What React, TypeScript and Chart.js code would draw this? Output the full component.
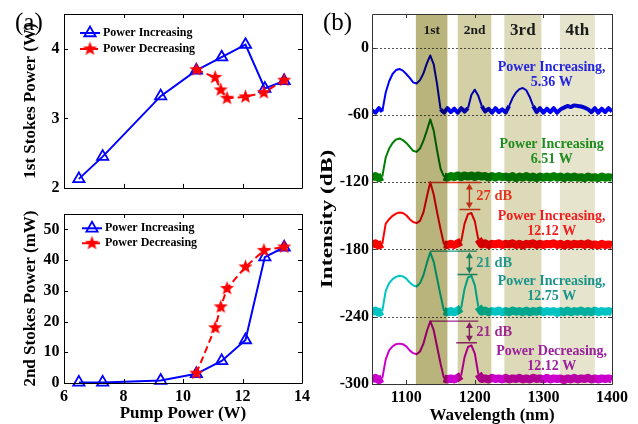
import React, { useEffect, useRef } from 'react';
import { Chart, registerables } from 'chart.js';

Chart.register(...registerables);

// ================= Panel (a) data =================
const pumpIncreasing = [6.5, 7.3, 9.25, 10.45, 11.3, 12.1, 12.75, 13.4];
const firstStokesIncreasing = [2.13, 2.45, 3.32, 3.69, 3.88, 4.06, 3.43, 3.54];
const pumpDecreasing = [10.45, 11.08, 11.27, 11.48, 12.1, 12.72, 13.4];
const firstStokesDecreasing = [3.7, 3.59, 3.41, 3.29, 3.31, 3.37, 3.55];
const secondStokesIncreasing = [0.2, 0.2, 0.8, 3.0, 7.2, 14.0, 41.0, 44.2];
const secondStokesDecreasing = [3.2, 18.0, 24.8, 30.8, 37.8, 43.2, 44.3];
const pumpTicks = [6, 8, 10, 12, 14];
const firstStokesTicks = [2, 3, 4];
const secondStokesTicks = [0, 10, 20, 30, 40, 50];
const seriesNames = ['Power Increasing', 'Power Decreasing'];

// ================= Panel (b) data =================
const wavelengths = [
  1050, 1055, 1060, 1065, 1070, 1075, 1080, 1085, 1090, 1095,
  1100, 1105, 1110, 1115, 1120, 1125, 1130, 1135, 1140, 1145,
  1150, 1155, 1160, 1165, 1170, 1175, 1180, 1185, 1190, 1195,
  1200, 1205, 1210, 1215, 1220, 1225, 1230, 1235, 1240, 1245,
  1250, 1255, 1260, 1265, 1270, 1275, 1280, 1285, 1290, 1295,
  1300, 1305, 1310, 1315, 1320, 1325, 1330, 1335, 1340, 1345,
  1350, 1355, 1360, 1365, 1370, 1375, 1380, 1385, 1390, 1395,
  1400,
];
// spectra in dB relative to each trace's own baseline (stack offset below)
const spectrum536 = [
  4, 2, 6, 3, 20, 30, 36.5, 40, 41, 39.5,
  36.5, 33, 29, 28, 31, 37, 46, 53, 45, 27,
  5, 2, 6, 2.5, 5.5, 2, 6, 3, 6, 18,
  22.5, 17, 8, 3, 5.5, 2, 6, 2.5, 5, 2,
  8, 15, 20, 23, 24, 22, 16, 8, 2.5, 6,
  2, 5.5, 2.5, 6, 2, 5, 6.5, 8, 7, 8.5,
  8, 7.5, 6.5, 5, 2.5, 6, 2, 5.5, 2.5, 6,
  3,
];
const spectrum651 = [
  4, 5.5, 3.5, 5, 22, 30, 35, 38, 39, 37.5,
  35, 31.5, 28, 27, 30, 37, 46, 56, 46, 28,
  12, 5, 4, 5.5, 4.5, 6, 4.5, 6, 5, 6,
  4.5, 6, 5, 5.5, 4, 5.5, 4, 5.5, 4.5, 5,
  4, 5.5, 3.5, 5, 4, 5.5, 4, 5, 3.5, 5,
  4, 5, 4, 5.5, 4, 5, 3.5, 5, 4, 5,
  4, 4.5, 3.5, 5, 4, 4.5, 3.5, 5, 4, 4.5,
  4,
];
const spectrum1212Inc = [
  4, 5.5, 3.5, 5, 23, 27, 30, 32, 33, 32.5,
  30.5, 27, 24.5, 23.5, 25.5, 33, 47, 60, 49, 33,
  18, 4.5, 4, 5, 4, 5.5, 7, 23, 31.5, 32.5,
  25, 9, 4.5, 5.5, 4, 5, 4.5, 5.5, 4, 5,
  4.5, 5.5, 4, 5, 3.5, 5, 4.5, 5.5, 4, 5,
  4, 5, 4.5, 5.5, 4, 5, 3.5, 5, 4, 5,
  4.5, 5, 4, 5.5, 4, 4.5, 3.5, 5, 4, 4.5,
  4,
];
const spectrum1275 = [
  4, 5.5, 3.5, 5, 23, 30, 33.5, 35.5, 36.5, 36,
  34, 30.5, 28, 27, 30, 37, 48, 57.5, 49, 34,
  19, 5, 4, 5, 4, 5.5, 7.5, 25, 35, 36.5,
  28, 9, 4.5, 5.5, 4, 5, 4.5, 5.5, 4, 5,
  4, 5.5, 4.5, 5, 4, 5.5, 4, 5, 4.5, 5.5,
  4, 5, 4.5, 5, 3.5, 5, 4, 5.5, 4, 5,
  4.5, 5.5, 4, 5, 4, 5.5, 4, 5, 4.5, 5,
  4,
];
const spectrum1212Dec = [
  4, 5.5, 3.5, 5, 22, 30, 33.5, 35.5, 36, 35.5,
  33.5, 30, 27.5, 26.5, 29, 36, 47, 56, 48, 33,
  18, 5, 4, 5, 4, 5.5, 7.5, 24, 33, 34.5,
  27, 9, 4.5, 5, 4, 5.5, 4.5, 5, 4, 5.5,
  4, 5, 4.5, 5.5, 4, 5, 4, 5.5, 4.5, 5,
  4, 5.5, 4, 5, 4.5, 5, 3.5, 5, 4, 5.5,
  4, 5, 4.5, 5.5, 4, 5, 4, 5, 4.5, 5,
  4,
];
const spectra = [spectrum536, spectrum651, spectrum1212Inc, spectrum1275, spectrum1212Dec];
const spectrumOffsets = [-60, -120, -180, -240, -300];
const spectrumNames = [
  ['Power Increasing,', '5.36 W'],
  ['Power Increasing', '6.51 W'],
  ['Power Increasing,', '12.12 W'],
  ['Power Increasing,', '12.75 W'],
  ['Power Decreasing,', '12.12 W'],
];
const intensityTicks = [-300, -240, -180, -120, -60, 0];
const wavelengthTicks = [1100, 1200, 1300, 1400];
const bandLabels = ['1st', '2nd', '3rd', '4th'];
const bandStart = [1114, 1175, 1243, 1324];
const bandEnd = [1160, 1224, 1297, 1375];
const gapLabels = ['27 dB', '21 dB', '21 dB'];
const gapTop = [-120.3, -181.5, -243.9];
const gapBottom = [-144.4, -202.3, -263.2];

// ================= Styles / layout =================
const SERIF = '"Liberation Serif", "Times New Roman", serif';
const tickFont = { family: SERIF, weight: 'bold', size: 16 };
const titleFont = { family: SERIF, weight: 'bold', size: 17, lineHeight: 1 };
const incColor = '#0000ff';
const decColor = '#ff0000';
const traceColors = ['#0000ff', '#008000', '#ff0000', '#00c4c4', '#cc00cc'];
const traceTextColors = ['#2424e0', '#1e8c1e', '#f01e1e', '#1a9488', '#9c1f9c'];
const traceFloorWidth = [4, 8, 8, 8, 8];
const bandColors = ['#b8b47c', '#d3d0a6', '#dddab9', '#e6e4cd'];
const bandFontSize = [13.5, 13.5, 17, 17];
const bandLabelDb = 15;
const nameCenterNm = 1312;
const nameFirstLineDb = [-18, -86.4, -150.4, -208.8, -271.2];
const gapColors = ['#e2381e', '#22998a', '#a0288f'];
const gapLongNm = [[1132, 1208], [1135, 1203], [1135, 1205]];
const gapShortNm = [[1177.6, 1208], [1174.7, 1203.8], [1172.8, 1203]];
const gapArrowNm = 1192;

function makeStar(r: number, color: string) {
  const c = document.createElement('canvas');
  const s = Math.ceil(r * 2 + 2);
  c.width = s;
  c.height = s;
  const g = c.getContext('2d')!;
  g.fillStyle = color;
  g.beginPath();
  for (let i = 0; i < 10; i++) {
    const ang = -Math.PI / 2 + (i * Math.PI) / 5;
    const rr = i % 2 === 0 ? r : r * 0.42;
    g.lineTo(s / 2 + rr * Math.cos(ang), s / 2 + rr * Math.sin(ang));
  }
  g.closePath();
  g.fill();
  return c;
}

function axis(min: number, max: number, values: number[], showLabels: boolean, fitKey: string, fitSize: number, title?: any, pad = 4) {
  return {
    type: 'linear',
    min,
    max,
    afterBuildTicks: (s: any) => {
      s.ticks = values.map((v) => ({ value: v }));
    },
    afterFit: (s: any) => {
      s[fitKey] = fitSize;
    },
    grid: { display: false, drawTicks: false },
    border: { display: false },
    ticks: {
      display: showLabels,
      font: tickFont,
      color: '#000',
      padding: pad,
      autoSkip: false,
      maxRotation: 0,
      callback: (v: any) => String(v),
    },
    title: title || { display: false },
  };
}

function framePlugin(color: string, tickLen: number) {
  return {
    id: 'frame',
    afterDraw(chart: any) {
      const { ctx, chartArea: a, scales } = chart;
      ctx.save();
      ctx.strokeStyle = color;
      ctx.lineWidth = 1;
      ctx.setLineDash([]);
      ctx.beginPath();
      ctx.rect(Math.round(a.left) + 0.5, Math.round(a.top) + 0.5, Math.round(a.right - a.left), Math.round(a.bottom - a.top));
      for (const t of scales.x.ticks) {
        const p = Math.round(scales.x.getPixelForValue(t.value)) + 0.5;
        ctx.moveTo(p, a.bottom);
        ctx.lineTo(p, a.bottom - tickLen);
        ctx.moveTo(p, a.top);
        ctx.lineTo(p, a.top + tickLen);
      }
      for (const t of scales.y.ticks) {
        const p = Math.round(scales.y.getPixelForValue(t.value)) + 0.5;
        ctx.moveTo(a.left, p);
        ctx.lineTo(a.left + tickLen, p);
        ctx.moveTo(a.right, p);
        ctx.lineTo(a.right - tickLen, p);
      }
      ctx.stroke();
      ctx.restore();
    },
  };
}

function drawTriangle(ctx: any, x: number, y: number, r: number) {
  ctx.beginPath();
  ctx.moveTo(x, y - r);
  ctx.lineTo(x + r * 0.866, y + r * 0.5);
  ctx.lineTo(x - r * 0.866, y + r * 0.5);
  ctx.closePath();
  ctx.lineWidth = 1.8;
  ctx.strokeStyle = incColor;
  ctx.stroke();
}

function legendPlugin(x0: number, y0: number, gap: number, star: HTMLCanvasElement) {
  return {
    id: 'legendA',
    afterDatasetsDraw(chart: any) {
      const ctx = chart.ctx;
      ctx.save();
      ctx.lineWidth = 2;
      ctx.strokeStyle = incColor;
      ctx.setLineDash([]);
      ctx.beginPath();
      ctx.moveTo(x0, y0);
      ctx.lineTo(x0 + 20, y0);
      ctx.stroke();
      drawTriangle(ctx, x0 + 10, y0, 6.5);
      const y2 = y0 + gap;
      ctx.lineWidth = 2;
      ctx.strokeStyle = decColor;
      ctx.setLineDash([7, 4]);
      ctx.beginPath();
      ctx.moveTo(x0, y2);
      ctx.lineTo(x0 + 20, y2);
      ctx.stroke();
      ctx.setLineDash([]);
      ctx.drawImage(star, x0 + 10 - star.width / 2, y2 - star.height / 2);
      ctx.fillStyle = '#000';
      ctx.font = `bold 12px ${SERIF}`;
      ctx.textBaseline = 'middle';
      ctx.textAlign = 'left';
      ctx.fillText(seriesNames[0], x0 + 23, y0);
      ctx.fillText(seriesNames[1], x0 + 23, y2);
      ctx.restore();
    },
  };
}

function panelLabel(text: string, x: number, y: number) {
  return {
    id: 'panelLabel',
    afterDraw(chart: any) {
      const ctx = chart.ctx;
      ctx.save();
      ctx.fillStyle = '#000';
      ctx.font = `25px ${SERIF}`;
      ctx.textAlign = 'left';
      ctx.textBaseline = 'middle';
      ctx.fillText(text, x, y);
      ctx.restore();
    },
  };
}

function incDataset(ys: number[]) {
  return {
    label: seriesNames[0],
    data: pumpIncreasing.map((x, i) => ({ x, y: ys[i] })),
    borderColor: incColor,
    borderWidth: 2,
    pointStyle: 'triangle',
    pointRadius: 6.5,
    pointBorderWidth: 1.8,
    pointBorderColor: incColor,
    pointBackgroundColor: 'rgba(255,255,255,0)',
    order: 2,
    clip: false,
  };
}

function decDataset(ys: number[], star: HTMLCanvasElement) {
  return {
    label: seriesNames[1],
    data: pumpDecreasing.map((x, i) => ({ x, y: ys[i] })),
    borderColor: decColor,
    borderWidth: 2,
    borderDash: [7, 4],
    pointStyle: star,
    pointRadius: 7.5,
    order: 1,
    clip: false,
  };
}

const baseOptions = {
  animation: false,
  responsive: false,
  maintainAspectRatio: false,
  devicePixelRatio: 1,
  events: [],
};

function makeTop(canvas: HTMLCanvasElement, star: HTMLCanvasElement) {
  return new Chart(canvas as any, {
    type: 'line',
    data: { datasets: [decDataset(firstStokesDecreasing, star), incDataset(firstStokesIncreasing)] } as any,
    options: {
      ...baseOptions,
      layout: { padding: { left: 0, right: 18, top: 14, bottom: 0 } },
      plugins: { legend: { display: false }, tooltip: { enabled: false } },
      scales: {
        x: axis(6, 14, pumpTicks, false, 'height', 4),
        y: axis(2, 4.5, firstStokesTicks, true, 'width', 64, {
          display: true,
          text: '1st Stokes Power (W)',
          font: titleFont,
          color: '#000',
          padding: { top: 22, bottom: 0 },
        }, 4.5),
      },
    } as any,
    plugins: [framePlugin('#000', 4), legendPlugin(80, 33, 16, star), panelLabel('(a)', 15, 23)] as any,
  });
}

function makeBottom(canvas: HTMLCanvasElement, star: HTMLCanvasElement) {
  return new Chart(canvas as any, {
    type: 'line',
    data: { datasets: [decDataset(secondStokesDecreasing, star), incDataset(secondStokesIncreasing)] } as any,
    options: {
      ...baseOptions,
      layout: { padding: { left: 0, right: 18, top: 4, bottom: 0 } },
      plugins: { legend: { display: false }, tooltip: { enabled: false } },
      scales: {
        x: axis(6, 14, pumpTicks, true, 'height', 41, {
          display: true,
          text: 'Pump Power (W)',
          font: titleFont,
          color: '#000',
          padding: { top: 0, bottom: 1.5 },
        }),
        y: axis(0, 55, secondStokesTicks, true, 'width', 64, {
          display: true,
          text: '2nd Stokes Power (mW)',
          font: titleFont,
          color: '#000',
          padding: { top: 22, bottom: 0 },
        }, 4.5),
      },
    } as any,
    plugins: [framePlugin('#000', 4), legendPlugin(82, 28.3, 15, star)] as any,
  });
}

function spectraPlugin() {
  return {
    id: 'spectraDecor',
    beforeDatasetsDraw(chart: any) {
      const { ctx, chartArea: a, scales } = chart;
      const y = scales.y;
      ctx.save();
      ctx.strokeStyle = '#555';
      ctx.lineWidth = 1;
      ctx.setLineDash([2, 2]);
      for (const v of intensityTicks) {
        if (v <= y.min) continue;
        const p = Math.round(y.getPixelForValue(v)) + 0.5;
        ctx.beginPath();
        ctx.moveTo(a.left, p);
        ctx.lineTo(a.right, p);
        ctx.stroke();
      }
      ctx.restore();
    },
    afterDatasetsDraw(chart: any) {
      const { ctx, chartArea: a, scales } = chart;
      const x = scales.x;
      const y = scales.y;
      ctx.save();
      ctx.beginPath();
      ctx.rect(a.left, a.top, a.right - a.left, a.bottom - a.top);
      ctx.clip();
      // gap annotations (drawn under the shaded bands)
      gapLabels.forEach((_, i) => {
        const c = gapColors[i];
        const yt = y.getPixelForValue(gapTop[i]);
        const yb = y.getPixelForValue(gapBottom[i]);
        const ax = x.getPixelForValue(gapArrowNm);
        ctx.strokeStyle = c;
        ctx.fillStyle = c;
        ctx.lineWidth = 1.4;
        ctx.setLineDash([]);
        ctx.beginPath();
        ctx.moveTo(x.getPixelForValue(gapLongNm[i][0]), yt);
        ctx.lineTo(x.getPixelForValue(gapLongNm[i][1]), yt);
        ctx.moveTo(x.getPixelForValue(gapShortNm[i][0]), yb);
        ctx.lineTo(x.getPixelForValue(gapShortNm[i][1]), yb);
        ctx.moveTo(ax, yt + 4);
        ctx.lineTo(ax, yb - 4);
        ctx.stroke();
        ctx.beginPath();
        ctx.moveTo(ax, yt + 1);
        ctx.lineTo(ax - 3.5, yt + 7);
        ctx.lineTo(ax + 3.5, yt + 7);
        ctx.closePath();
        ctx.fill();
        ctx.beginPath();
        ctx.moveTo(ax, yb - 1);
        ctx.lineTo(ax - 3.5, yb - 7);
        ctx.lineTo(ax + 3.5, yb - 7);
        ctx.closePath();
        ctx.fill();
      });
      // shaded Stokes bands
      ctx.globalCompositeOperation = 'multiply';
      bandStart.forEach((s, i) => {
        const x0 = x.getPixelForValue(s);
        const x1 = x.getPixelForValue(bandEnd[i]);
        ctx.fillStyle = bandColors[i];
        ctx.fillRect(x0, a.top, x1 - x0, a.bottom - a.top);
      });
      ctx.globalCompositeOperation = 'source-over';
      // band labels
      ctx.textAlign = 'center';
      ctx.textBaseline = 'middle';
      ctx.fillStyle = '#1a1a1a';
      bandLabels.forEach((t, i) => {
        ctx.font = `bold ${bandFontSize[i]}px ${SERIF}`;
        const cx = (x.getPixelForValue(bandStart[i]) + x.getPixelForValue(bandEnd[i])) / 2;
        ctx.fillText(t, cx, y.getPixelForValue(bandLabelDb));
      });
      // trace names
      ctx.font = `bold 14px ${SERIF}`;
      spectrumNames.forEach((lines, i) => {
        ctx.fillStyle = traceTextColors[i];
        const cx = x.getPixelForValue(nameCenterNm);
        const cy = y.getPixelForValue(nameFirstLineDb[i]);
        ctx.fillText(lines[0], cx, cy);
        ctx.fillText(lines[1], cx, cy + 15);
      });
      // gap labels
      ctx.textAlign = 'left';
      ctx.font = `bold 14.5px ${SERIF}`;
      gapLabels.forEach((t, i) => {
        ctx.fillStyle = gapColors[i];
        const ax = x.getPixelForValue(gapArrowNm);
        const cy = (y.getPixelForValue(gapTop[i]) + y.getPixelForValue(gapBottom[i])) / 2;
        ctx.fillText(t, ax + 7, cy);
      });
      ctx.restore();
    },
    afterDraw(chart: any) {
      const ctx = chart.ctx;
      ctx.save();
      ctx.fillStyle = '#000';
      ctx.font = `25px ${SERIF}`;
      ctx.textAlign = 'left';
      ctx.textBaseline = 'middle';
      ctx.fillText('(b)', 13, 23);
      ctx.translate(18, 219);
      ctx.rotate(-Math.PI / 2);
      ctx.scale(1.42, 1);
      ctx.font = `bold 16.5px ${SERIF}`;
      ctx.textAlign = 'center';
      ctx.fillText('Intensity (dB)', 0, 0);
      ctx.restore();
    },
  };
}

function makeSpectra(canvas: HTMLCanvasElement) {
  const datasets = spectra.map((sp, i) => ({
    label: spectrumNames[i].join(' '),
    data: wavelengths.map((x, k) => ({ x, y: sp[k] + spectrumOffsets[i] })),
    borderColor: traceColors[i],
    borderWidth: 2,
    pointRadius: 0,
    borderJoinStyle: 'round',
    borderCapStyle: 'butt',
    clip: 0,
    segment: {
      borderWidth: (c: any) =>
        c.p0.parsed.y - spectrumOffsets[i] < 9.5 && c.p1.parsed.y - spectrumOffsets[i] < 9.5 ? traceFloorWidth[i] : 2,
    },
  }));
  return new Chart(canvas as any, {
    type: 'line',
    data: { datasets } as any,
    options: {
      ...baseOptions,
      layout: { padding: { left: 0, right: 26, top: 14, bottom: 0 } },
      plugins: { legend: { display: false }, tooltip: { enabled: false } },
      scales: {
        x: axis(1050, 1400, wavelengthTicks, true, 'height', 40, {
          display: true,
          text: 'Wavelength (nm)',
          font: titleFont,
          color: '#000',
          padding: { top: 0, bottom: 0 },
        }),
        y: axis(-300, 30, intensityTicks, true, 'width', 62, undefined, 3),
      },
    } as any,
    plugins: [spectraPlugin(), framePlugin('#333', 4)] as any,
  });
}

export default function App() {
  const topRef = useRef<HTMLCanvasElement>(null);
  const bottomRef = useRef<HTMLCanvasElement>(null);
  const specRef = useRef<HTMLCanvasElement>(null);

  useEffect(() => {
    const star = makeStar(7.5, decColor);
    const charts = [
      makeTop(topRef.current!, star),
      makeBottom(bottomRef.current!, star),
      makeSpectra(specRef.current!),
    ];
    return () => charts.forEach((c) => c.destroy());
  }, []);

  return (
    <div style={{ position: 'absolute', left: 0, top: 0, width: 638, height: 424, background: '#fff', overflow: 'hidden' }}>
      <canvas ref={topRef} width={320} height={202} style={{ position: 'absolute', left: 0, top: 0, width: 320, height: 202 }} />
      <canvas ref={bottomRef} width={320} height={224} style={{ position: 'absolute', left: 0, top: 200, width: 320, height: 224 }} />
      <canvas ref={specRef} width={328} height={424} style={{ position: 'absolute', left: 310, top: 0, width: 328, height: 424 }} />
    </div>
  );
}
